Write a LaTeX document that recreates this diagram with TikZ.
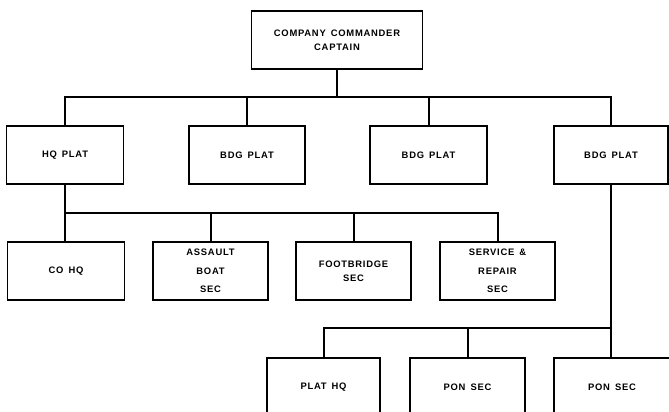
\documentclass[tikz,border=0pt]{standalone}
\usepackage{fontspec}
\newfontfamily\labfont[LetterSpace=8,WordSpace=1.5]{Liberation Sans Bold}
\begin{document}
\begin{tikzpicture}[x=1pt,y=-1pt,
  box/.style={draw,line width=1.1pt,minimum height=58pt,inner sep=0pt,
    font=\labfont\fontsize{9.4}{14}\selectfont,align=center},
  link/.style={line width=2pt}]
\useasboundingbox (0,0) rectangle (669,412);
% row 1
\node[box,minimum width=171pt] (cc) at (337,40) {COMPANY COMMANDER\\CAPTAIN};
% row 2
\node[box,minimum width=117pt] (hqp) at (65,155) {HQ PLAT};
\node[box,minimum width=116pt] (bdga) at (247,155) {BDG PLAT};
\node[box,minimum width=117pt] (bdgb) at (428.5,155) {BDG PLAT};
\node[box,minimum width=114pt] (bdgc) at (611,155) {BDG PLAT};
% row 3
\node[box,minimum width=117pt] (cohq) at (66,271) {CO HQ};
\node[box,minimum width=115pt] (asb) at (210.5,271) {ASSAULT\\[4.5pt]BOAT\\[4.5pt]SEC};
\node[box,minimum width=115pt] (fbs) at (353.5,271) {FOOTBRIDGE\\SEC};
\node[box,minimum width=115pt] (srs) at (497.5,271) {SERVICE \&\\[4.5pt]REPAIR\\[4.5pt]SEC};
% row 4 (cut off at the bottom)
\node[box,minimum width=113pt] (plhq) at (323.5,387) {PLAT HQ};
\node[box,minimum width=115pt] (pona) at (467.5,387) {PON SEC};
\node[box,minimum width=116pt] (ponb) at (612,387) {PON SEC};
% buses
\coordinate (busa) at (0,97);
\coordinate (busb) at (0,213);
\coordinate (busc) at (0,328);
% connectors
\draw[link] (cc.south) -- (cc.south |- busa);
\draw[link] (hqp.north) -- (hqp.north |- busa) -- (bdgc.north |- busa) -- (bdgc.north);
\draw[link] (bdga.north |- busa) -- (bdga.north);
\draw[link] (bdgb.north |- busa) -- (bdgb.north);
\draw[link] (hqp.south) -- (hqp.south |- busb) -- (srs.north |- busb) -- (srs.north);
\draw[link] (cohq.north -| hqp.south) -- (hqp.south |- busb);
\draw[link] (asb.north |- busb) -- (asb.north);
\draw[link] (fbs.north |- busb) -- (fbs.north);
\draw[link] (bdgc.south) -- (ponb.north -| bdgc.south);
\draw[link] (plhq.north) -- (plhq.north |- busc) -- (bdgc.south |- busc);
\draw[link] (pona.north |- busc) -- (pona.north);
\end{tikzpicture}
\end{document}
